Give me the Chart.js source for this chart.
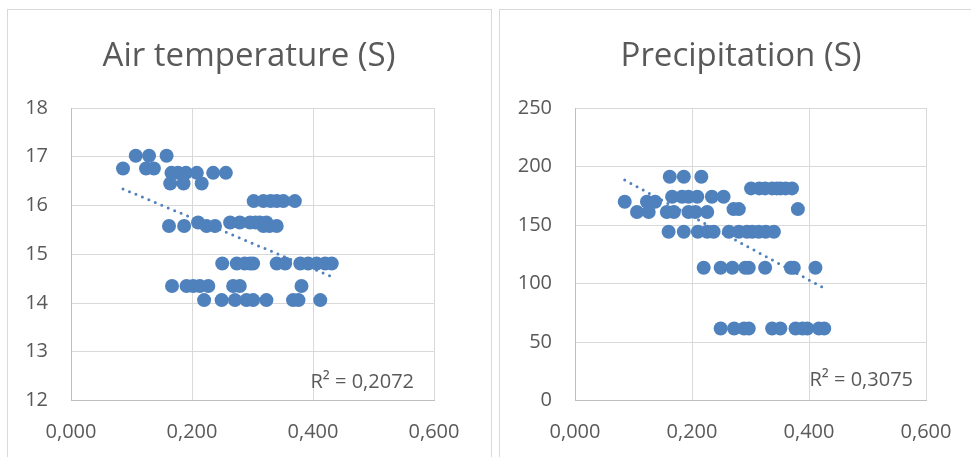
<!DOCTYPE html>
<html>
<head>
<meta charset="utf-8">
<script src="https://cdn.jsdelivr.net/npm/chart.js@4.4.1/dist/chart.umd.min.js"></script>
<style>
  html, body { margin: 0; padding: 0; background: #fff; overflow: hidden; }
  body { width: 971px; height: 457px; position: relative; }
  .panel { position: absolute; top: 9px; height: 460px; border: 1px solid #d9d9d9; box-sizing: border-box; }
  .box { position: absolute; top: 9px; height: 448px; }
</style>
</head>
<body>
<div class="panel" style="left:7px;width:485px"></div>
<div class="panel" style="left:499px;width:490px"></div>
<div class="box" style="left:8px;width:482px"><canvas id="airChart"></canvas></div>
<div class="box" style="left:500px;width:482px"><canvas id="precChart"></canvas></div>
<script>
// Air temperature (S)
const airX = [
  0.107, 0.129, 0.158,
  0.086, 0.124, 0.137,
  0.166, 0.177, 0.190, 0.208, 0.235, 0.256,
  0.164, 0.186, 0.216,
  0.302, 0.318, 0.330, 0.340, 0.351, 0.370,
  0.210, 0.263, 0.279, 0.296, 0.305, 0.312, 0.323,
  0.162, 0.187, 0.224, 0.238, 0.318, 0.328, 0.340,
  0.250, 0.274, 0.287, 0.296, 0.301, 0.340, 0.354, 0.379, 0.392, 0.406, 0.420, 0.431,
  0.167, 0.191, 0.202, 0.213, 0.227, 0.268, 0.279, 0.381,
  0.220, 0.249, 0.271, 0.290, 0.301, 0.323, 0.367, 0.376, 0.412
];
const airY = [
  17.02, 17.02, 17.02,
  16.76, 16.76, 16.76,
  16.67, 16.67, 16.67, 16.67, 16.67, 16.67,
  16.45, 16.45, 16.45,
  16.09, 16.09, 16.09, 16.09, 16.09, 16.09,
  15.65, 15.65, 15.65, 15.65, 15.65, 15.65, 15.65,
  15.58, 15.58, 15.58, 15.58, 15.58, 15.58, 15.58,
  14.81, 14.81, 14.81, 14.81, 14.81, 14.81, 14.81, 14.81, 14.81, 14.81, 14.81, 14.81,
  14.35, 14.35, 14.35, 14.35, 14.35, 14.35, 14.35, 14.35,
  14.06, 14.06, 14.06, 14.06, 14.06, 14.06, 14.06, 14.06, 14.06
];
const airTrendX = [0.086, 0.431];
const airTrendY = [16.34, 14.54];
const airR2 = 'R² = 0,2072';

// Precipitation (S)
const precX = [
  0.162, 0.186, 0.216,
  0.301, 0.315, 0.325, 0.337, 0.345, 0.351, 0.360, 0.371,
  0.166, 0.183, 0.194, 0.209, 0.234, 0.254,
  0.085, 0.123, 0.137,
  0.271, 0.280, 0.381,
  0.106, 0.126, 0.157, 0.169, 0.194, 0.206, 0.226,
  0.160, 0.186, 0.210, 0.226, 0.237, 0.263, 0.280, 0.294, 0.303, 0.314, 0.326, 0.340,
  0.220, 0.249, 0.269, 0.291, 0.297, 0.325, 0.369, 0.374, 0.411,
  0.249, 0.272, 0.289, 0.297, 0.337, 0.351, 0.377, 0.389, 0.397, 0.417, 0.426
];
const precY = [
  191.3, 191.3, 191.3,
  181.3, 181.3, 181.3, 181.3, 181.3, 181.3, 181.3, 181.3,
  174.2, 174.2, 174.2, 174.2, 174.2, 174.2,
  169.9, 169.9, 169.9,
  163.6, 163.6, 163.6,
  161.1, 161.1, 161.1, 161.1, 161.1, 161.1, 161.1,
  144.2, 144.2, 144.2, 144.2, 144.2, 144.2, 144.2, 144.2, 144.2, 144.2, 144.2, 144.2,
  113.5, 113.5, 113.5, 113.5, 113.5, 113.5, 113.5, 113.5, 113.5,
  61.6, 61.6, 61.6, 61.6, 61.6, 61.6, 61.6, 61.6, 61.6, 61.6, 61.6
];
const precTrendX = [0.085, 0.426];
const precTrendY = [188.4, 96.0];
const precR2 = 'R² = 0,3075';

const xTicks = [0, 0.2, 0.4, 0.6];

const blue = '#4f81bd';
const textGray = '#595959';
const font = '"Open Sans", sans-serif';

// Titel mittig über dem Canvas, R² unten rechts im Plotbereich
const panelText = {
  id: 'panelText',
  afterDatasetsDraw(chart, args, opts) {
    const { ctx, chartArea } = chart;
    ctx.save();
    ctx.fillStyle = textGray;
    ctx.textBaseline = 'alphabetic';
    ctx.font = '33px ' + font;
    ctx.textAlign = 'center';
    ctx.fillText(opts.title, chart.width / 2, opts.titleBase);
    ctx.font = '20px ' + font;
    ctx.textAlign = 'right';
    ctx.fillText(opts.r2, chartArea.right - opts.r2dx, chartArea.bottom - opts.r2dy);
    ctx.restore();
  }
};

function pts(xs, ys) {
  return xs.map((x, i) => ({ x: x, y: ys[i] }));
}

function makeChart(id, title, xs, ys, tx, ty, yMin, yMax, yStep, r2, r2dx, r2dy, yAxisW) {
  return new Chart(document.getElementById(id), {
    type: 'scatter',
    data: {
      datasets: [
        {
          data: pts(tx, ty),
          showLine: true,
          borderColor: blue,
          borderWidth: 3,
          borderDash: [0, 7],
          borderCapStyle: 'round',
          pointRadius: 0
        },
        {
          data: pts(xs, ys),
          backgroundColor: blue,
          borderColor: blue,
          borderWidth: 0,
          pointRadius: 7,
          pointHoverRadius: 7
        }
      ]
    },
    options: {
      responsive: true,
      maintainAspectRatio: false,
      animation: false,
      devicePixelRatio: 1,
      layout: { padding: { left: 0, right: 56, top: 99, bottom: 0 } },
      plugins: {
        legend: { display: false },
        tooltip: { enabled: false },
        title: { display: false },
        panelText: { title: title, titleBase: 57, r2: r2, r2dx: r2dx, r2dy: r2dy }
      },
      scales: {
        x: {
          type: 'linear',
          min: xTicks[0],
          max: xTicks[xTicks.length - 1],
          afterBuildTicks: s => { s.ticks = xTicks.map(v => ({ value: v })); },
          afterFit: s => { s.height = 56.5; },
          ticks: {
            color: textGray,
            font: { family: font, size: 20 },
            padding: 19.5,
            callback: v => v.toFixed(3).replace('.', ',')
          },
          grid: { color: '#d9d9d9', drawTicks: false },
          border: { color: '#bfbfbf' }
        },
        y: {
          min: yMin,
          max: yMax,
          afterFit: s => { s.width = yAxisW; },
          ticks: {
            stepSize: yStep,
            color: textGray,
            font: { family: font, size: 20 },
            padding: 23
          },
          grid: { color: '#d9d9d9', drawTicks: false },
          border: { color: '#bfbfbf' }
        }
      }
    },
    plugins: [panelText]
  });
}

makeChart('airChart', 'Air temperature (S)', airX, airY, airTrendX, airTrendY,
  12, 18, 1, airR2, 20, 12.5, 63);
makeChart('precChart', 'Precipitation (S)', precX, precY, precTrendX, precTrendY,
  0, 250, 50, precR2, 13, 15, 75);
</script>
</body>
</html>
